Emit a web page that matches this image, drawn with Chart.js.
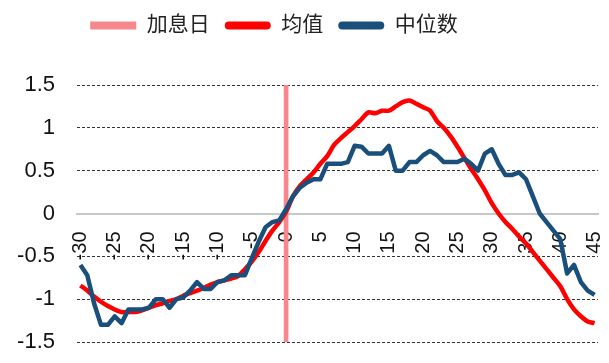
<!DOCTYPE html>
<html>
<head>
<meta charset="utf-8">
<script src="https://cdn.jsdelivr.net/npm/chart.js@4"></script>
<style>
  html, body { margin: 0; padding: 0; background: #fff; }
  #wrap { width: 609px; height: 363px; }
</style>
</head>
<body>
<div id="wrap"><canvas id="lineChart" width="609" height="363"></canvas></div>
<script>
const days = [];
for (let d = -30; d <= 45; d++) days.push(d);

const hikeDays = [0];
const meanVals = [
  -0.84, -0.90, -0.97, -1.03, -1.08, -1.12, -1.15, -1.15, -1.15, -1.13,
  -1.10, -1.07, -1.05, -1.02, -1.00, -0.96, -0.93, -0.90, -0.87, -0.83,
  -0.80, -0.78, -0.76, -0.73, -0.65, -0.56, -0.45, -0.32, -0.20, -0.10,
  0.02, 0.20, 0.32, 0.40, 0.48, 0.58, 0.67, 0.80, 0.88, 0.95,
  1.02, 1.10, 1.18, 1.17, 1.20, 1.20, 1.25, 1.30, 1.32, 1.28,
  1.24, 1.20, 1.08, 1.00, 0.90, 0.78, 0.65, 0.52, 0.40, 0.27,
  0.12, 0.00, -0.10, -0.18, -0.27, -0.35, -0.45, -0.55, -0.65, -0.75,
  -0.85, -1.00, -1.12, -1.20, -1.26, -1.28
];
const medianVals = [
  -0.60, -0.72, -1.05, -1.30, -1.30, -1.20, -1.28, -1.12, -1.12, -1.12,
  -1.10, -1.00, -1.00, -1.10, -1.00, -0.98, -0.90, -0.80, -0.88, -0.88,
  -0.80, -0.78, -0.72, -0.72, -0.72, -0.52, -0.33, -0.16, -0.10, -0.08,
  0.05, 0.20, 0.30, 0.36, 0.40, 0.40, 0.58, 0.58, 0.58, 0.60,
  0.79, 0.78, 0.70, 0.70, 0.70, 0.79, 0.50, 0.50, 0.60, 0.60,
  0.68, 0.73, 0.68, 0.60, 0.60, 0.60, 0.64, 0.58, 0.50, 0.70,
  0.75, 0.58, 0.45, 0.45, 0.48, 0.40, 0.20, 0.00, -0.10, -0.20,
  -0.30, -0.70, -0.60, -0.80, -0.90, -0.95
];
const yTicks = [-1.5, -1, -0.5, 0, 0.5, 1, 1.5];
const yMin = yTicks[0], yMax = yTicks[yTicks.length - 1];

const fontFam = "'Liberation Sans', Arial, 'Noto Sans CJK SC', sans-serif";

const legendHeight = {
  id: 'legendHeight',
  beforeInit(chart) {
    const fit = chart.legend.fit;
    chart.legend.fit = function () {
      fit.bind(chart.legend)();
      this.height = 85;
    };
  },
  afterUpdate(chart) {
    // legend sits a bit left of centre in the original
    chart.legend.left -= 30;
    chart.legend.right -= 30;
  }
};

const ctx = document.getElementById('lineChart').getContext('2d');

new Chart(ctx, {
  type: 'line',
  data: {
    labels: days,
    datasets: [
      {
        type: 'bar',
        label: '加息日',
        data: days.map(d => hikeDays.includes(d) ? [yMin, yMax] : null),
        backgroundColor: '#F7878A',
        borderColor: '#F7878A',
        barThickness: 4,
        order: 3
      },
      {
        label: '均值',
        data: meanVals,
        borderColor: '#FF0000',
        backgroundColor: '#FF0000',
        borderWidth: 4.5,
        pointRadius: 0,
        tension: 0.3,
        order: 2
      },
      {
        label: '中位数',
        data: medianVals,
        borderColor: '#1A4F7C',
        backgroundColor: '#1A4F7C',
        borderWidth: 4.5,
        borderJoinStyle: 'round',
        pointRadius: 0,
        tension: 0,
        order: 1
      }
    ]
  },
  options: {
    responsive: false,
    animation: false,
    layout: { padding: { left: 10, right: 11, top: 0, bottom: 21 } },
    plugins: {
      tooltip: { enabled: false },
      legend: {
        position: 'top',
        labels: {
          color: '#222',
          font: { size: 21, family: fontFam },
          boxWidth: 46,
          boxHeight: 8,
          padding: 15,
          useBorderRadius: true,
          sort: (a, b) => a.datasetIndex - b.datasetIndex,
          generateLabels(chart) {
            const items = Chart.defaults.plugins.legend.labels.generateLabels(chart);
            items.forEach(it => {
              it.fillStyle = it.strokeStyle;
              it.lineWidth = 0;
              it.borderRadius = it.datasetIndex === 0 ? 0 : 4;
            });
            return items;
          }
        }
      }
    },
    scales: {
      x: {
        position: { y: 0 },
        offset: true,
        afterFit(axis) {
          // axis sits inside the plot, so it should not take room
          axis.height = 0;
          axis.paddingLeft = 0;
          axis.paddingRight = 0;
        },
        grid: { display: false, drawTicks: false },
        border: { display: true, color: '#c8c8c8', width: 2 },
        ticks: {
          autoSkip: false,
          minRotation: 90,
          maxRotation: 90,
          padding: 18,
          color: '#111',
          font: { size: 20, family: fontFam },
          callback(v, i) { return days[i] % 5 === 0 ? String(days[i]) : null; }
        }
      },
      y: {
        min: yMin,
        max: yMax,
        afterBuildTicks(axis) { axis.ticks = yTicks.map(v => ({ value: v })); },
        afterFit(axis) {
          axis.width = 67;
          axis.paddingTop = 0;
          axis.paddingBottom = 0;
        },
        grid: {
          color: c => c.tick && c.tick.value === 0 ? 'rgba(0,0,0,0)' : '#333',
          lineWidth: 1,
          drawTicks: false
        },
        border: { display: false, dash: [3, 2] },
        ticks: {
          padding: 22,
          color: '#111',
          font: { size: 22, family: fontFam },
          callback: v => String(v)
        }
      }
    }
  },
  plugins: [legendHeight]
});
</script>
</body>
</html>
